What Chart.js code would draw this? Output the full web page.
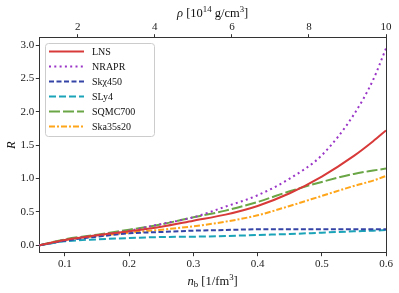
<!DOCTYPE html>
<html>
<head>
<meta charset="utf-8">
<script src="https://cdn.jsdelivr.net/npm/chart.js@4"></script>
<style>
  html, body { margin: 0; padding: 0; background: #fff; }
  #wrap { width: 399px; height: 293px; }
</style>
</head>
<body>
<div id="wrap"><canvas id="chart"></canvas></div>
<script>
// baryon density n_b [1/fm^3]
const nb = [0.06, 0.1, 0.15, 0.2, 0.25, 0.3, 0.35, 0.4, 0.45, 0.5, 0.55, 0.58, 0.6];

const lns      = [0.0, 0.08, 0.15, 0.21, 0.28, 0.37, 0.46, 0.59, 0.78, 1.03, 1.34, 1.56, 1.72];
const nrapr    = [0.0, 0.08, 0.15, 0.22, 0.32, 0.42, 0.58, 0.75, 1.00, 1.35, 1.96, 2.48, 2.95];
const skx450   = [0.0, 0.07, 0.13, 0.18, 0.20, 0.22, 0.23, 0.24, 0.24, 0.24, 0.24, 0.24, 0.24];
const sly4     = [0.0, 0.06, 0.09, 0.11, 0.125, 0.13, 0.14, 0.155, 0.17, 0.19, 0.21, 0.22, 0.23];
const sqmc700  = [0.0, 0.09, 0.16, 0.235, 0.315, 0.42, 0.52, 0.65, 0.81, 0.95, 1.07, 1.12, 1.15];
const ska35s20 = [0.0, 0.08, 0.14, 0.19, 0.235, 0.285, 0.355, 0.45, 0.59, 0.74, 0.89, 0.97, 1.04];

const xTicks = [0.1, 0.2, 0.3, 0.4, 0.5, 0.6];
const rhoTicks = [2, 4, 6, 8, 10];
const yTicks = [0.0, 0.5, 1.0, 1.5, 2.0, 2.5, 3.0];

const serif = "'Liberation Serif', 'DejaVu Serif', serif";
const axisColor = '#333';

function pts(ys) {
    return nb.map((x, i) => ({ x: x, y: ys[i] }));
}

function series(label, ys, color, dash) {
    return {
        label: label,
        data: pts(ys),
        borderColor: color,
        backgroundColor: color,
        borderWidth: 2,
        borderDash: dash,
        pointRadius: 0,
        fill: false,
        cubicInterpolationMode: 'monotone'
    };
}

let data = {
    datasets: [
        series('LNS', lns, '#d83a3a', []),
        series('NRAPR', nrapr, '#9a35c8', [2, 3.3]),
        series('Sk\u03c7450', skx450, '#3444a6', [5, 2.5]),
        series('SLy4', sly4, '#1ba3b8', [7, 3]),
        series('SQMC700', sqmc700, '#6aa646', [11, 3]),
        series('Ska35s20', ska35s20, '#ffa51a', [6, 2, 2, 2])
    ]
};

// draws a run of text pieces (italic / superscript / subscript) starting at x
function richText(ctx, parts, x, y, size) {
    let cx = x;
    parts.forEach(p => {
        let s = p.sup || p.sub ? size * 0.7 : size;
        ctx.font = (p.it ? 'italic ' : '') + s + 'px ' + serif;
        let dy = p.sup ? -size * 0.38 : (p.sub ? size * 0.22 : 0);
        ctx.fillText(p.t, cx, y + dy);
        cx += ctx.measureText(p.t).width;
    });
    return cx - x;
}

function richWidth(ctx, parts, size) {
    let w = 0;
    parts.forEach(p => {
        let s = p.sup || p.sub ? size * 0.7 : size;
        ctx.font = (p.it ? 'italic ' : '') + s + 'px ' + serif;
        w += ctx.measureText(p.t).width;
    });
    return w;
}

const decorations = {
    id: 'decorations',
    afterDraw(chart) {
        const ctx = chart.ctx;
        const a = chart.chartArea;
        ctx.save();

        // right spine
        ctx.strokeStyle = axisColor;
        ctx.lineWidth = 1;
        ctx.beginPath();
        ctx.moveTo(a.right + 0.5, a.top);
        ctx.lineTo(a.right + 0.5, a.bottom);
        ctx.stroke();

        // axis titles
        ctx.fillStyle = '#111';
        ctx.textBaseline = 'middle';
        ctx.textAlign = 'left';
        const mid = (a.left + a.right) / 2;

        const top = [{ t: '\u03c1', it: true }, { t: ' [10' }, { t: '14', sup: true }, { t: ' g/cm' }, { t: '3', sup: true }, { t: ']' }];
        richText(ctx, top, mid - richWidth(ctx, top, 12.5) / 2, 14, 12.5);

        const bottom = [{ t: 'n', it: true }, { t: 'b', sub: true }, { t: ' [1/fm' }, { t: '3', sup: true }, { t: ']' }];
        richText(ctx, bottom, mid - richWidth(ctx, bottom, 12.5) / 2, 282, 12.5);

        ctx.save();
        ctx.translate(12, (a.top + a.bottom) / 2);
        ctx.rotate(-Math.PI / 2);
        ctx.textAlign = 'center';
        ctx.font = 'italic 12.5px ' + serif;
        ctx.fillText('R', 0, 0);
        ctx.restore();

        // legend box, upper left inside the axes
        const bx = 45, by = 43, bw = 109, bh = 93;
        ctx.fillStyle = 'rgba(255,255,255,0.85)';
        ctx.strokeStyle = '#cccccc';
        ctx.lineWidth = 1;
        ctx.beginPath();
        ctx.roundRect(bx + 0.5, by + 0.5, bw, bh, 3);
        ctx.fill();
        ctx.stroke();

        chart.data.datasets.forEach((ds, i) => {
            const y = 51.5 + i * 15;
            ctx.strokeStyle = ds.borderColor;
            ctx.lineWidth = ds.borderWidth;
            ctx.setLineDash(ds.borderDash);
            ctx.beginPath();
            ctx.moveTo(49, y);
            ctx.lineTo(84, y);
            ctx.stroke();
            ctx.setLineDash([]);
            ctx.fillStyle = '#111';
            ctx.font = '10px ' + serif;
            ctx.textAlign = 'left';
            ctx.fillText(ds.label, 92, y + 0.5);
        });

        ctx.restore();
    }
};

const tickFont = { family: serif, size: 11 };

const chartEl = document.getElementById('chart');

let chart = new Chart(chartEl, {
    type: 'line',
    data: data,
    plugins: [decorations],
    options: {
        responsive: true,
        maintainAspectRatio: false,
        animation: false,
        layout: { padding: { left: 0, right: 13, top: 0, bottom: 0 } },
        plugins: {
            legend: { display: false },
            tooltip: { enabled: false },
            title: { display: false }
        },
        scales: {
            x: {
                type: 'linear',
                position: 'bottom',
                min: 0.06,
                max: 0.6,
                afterBuildTicks: s => { s.ticks = xTicks.map(v => ({ value: v })); },
                afterFit: s => { s.height = 40.3; },
                ticks: { font: tickFont, color: '#222', padding: 1, maxRotation: 0, callback: v => v.toFixed(1) },
                grid: { drawOnChartArea: false, tickLength: 3.5, color: axisColor },
                border: { color: axisColor, width: 1 }
            },
            x2: {
                type: 'linear',
                position: 'top',
                min: 1.0,
                max: 10,
                afterBuildTicks: s => { s.ticks = rhoTicks.map(v => ({ value: v })); },
                afterFit: s => { s.height = 37.7; },
                ticks: { font: tickFont, color: '#222', padding: 0, maxRotation: 0, callback: v => String(v) },
                grid: { drawOnChartArea: false, tickLength: 3.5, color: axisColor },
                border: { color: axisColor, width: 1 }
            },
            y: {
                type: 'linear',
                min: -0.11,
                max: 3.11,
                afterBuildTicks: s => { s.ticks = yTicks.map(v => ({ value: v })); },
                afterFit: s => { s.width = 39.3; },
                ticks: { font: tickFont, color: '#222', padding: 1.5, callback: v => v.toFixed(1) },
                grid: { drawOnChartArea: false, tickLength: 3.5, color: axisColor },
                border: { color: axisColor, width: 1 }
            }
        }
    }
});
</script>
</body>
</html>
